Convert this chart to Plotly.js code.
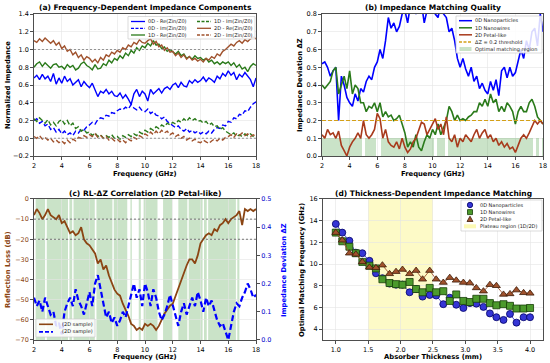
<!DOCTYPE html>
<html><head><meta charset="utf-8">
<script src="https://cdn.plot.ly/plotly-3.0.1.min.js"></script>
<style>html,body{margin:0;padding:0;background:#fff}#chart{width:550px;height:363px}</style>
</head><body><div id="chart"></div>
<script>
// ---------- DATA ----------
const freq = [2.0,2.2,2.4,2.6,2.8,3.0,3.2,3.4,3.6,3.8,
 4.0,4.2,4.4,4.6,4.8,5.0,5.2,5.4,5.6,5.8,
 6.0,6.2,6.4,6.6,6.8,7.0,7.2,7.4,7.6,7.8,
 8.0,8.2,8.4,8.6,8.8,9.0,9.2,9.4,9.6,9.8,
 10.0,10.2,10.4,10.6,10.8,11.0,11.2,11.4,11.6,11.8,
 12.0,12.2,12.4,12.6,12.8,13.0,13.2,13.4,13.6,13.8,
 14.0,14.2,14.4,14.6,14.8,15.0,15.2,15.4,15.6,15.8,
 16.0,16.2,16.4,16.6,16.8,17.0,17.2,17.4,17.6,17.8,
 18.0];

// (a) normalized impedance
const re0D = [0.68,0.71,0.66,0.72,0.67,0.70,0.64,0.73,0.61,0.68,
 0.62,0.70,0.64,0.67,0.60,0.63,0.66,0.58,0.64,0.60,
 0.57,0.62,0.55,0.47,0.53,0.51,0.55,0.50,0.53,0.48,
 0.47,0.51,0.45,0.49,0.44,0.38,0.50,0.55,0.47,0.53,
 0.50,0.42,0.55,0.50,0.53,0.56,0.51,0.56,0.58,0.55,
 0.60,0.62,0.57,0.63,0.59,0.58,0.65,0.62,0.66,0.63,
 0.65,0.69,0.64,0.68,0.66,0.63,0.70,0.67,0.73,0.70,
 0.76,0.71,0.74,0.66,0.72,0.69,0.74,0.70,0.66,0.58,
 0.68];
const im0D = [0.20,0.22,0.17,0.19,0.14,0.16,0.10,0.12,0.07,0.10,
 0.05,0.08,0.04,0.06,0.03,0.08,0.06,0.10,0.09,0.13,
 0.15,0.18,0.16,0.21,0.23,0.22,0.26,0.25,0.29,0.28,
 0.31,0.33,0.32,0.35,0.33,0.38,0.34,0.32,0.35,0.31,
 0.30,0.33,0.28,0.30,0.26,0.25,0.22,0.24,0.19,0.17,
 0.15,0.12,0.14,0.10,0.08,0.11,0.07,0.09,0.06,0.08,
 0.05,0.07,0.05,0.08,0.06,0.10,0.12,0.11,0.15,0.14,
 0.19,0.18,0.23,0.22,0.27,0.26,0.31,0.30,0.35,0.39,
 0.41];
const re1D = [0.80,0.84,0.86,0.81,0.85,0.82,0.79,0.83,0.84,0.80,
 0.81,0.78,0.83,0.80,0.82,0.77,0.79,0.84,0.86,0.82,
 0.80,0.77,0.83,0.78,0.79,0.84,0.82,0.88,0.85,0.90,
 0.88,0.93,0.90,0.96,0.93,0.99,0.96,1.02,0.99,1.04,
 1.02,1.07,1.04,1.10,1.05,1.06,1.01,1.03,0.98,1.00,
 0.97,0.95,0.98,0.93,0.95,0.90,0.92,0.89,0.93,0.90,
 0.91,0.88,0.90,0.86,0.88,0.84,0.86,0.83,0.86,0.84,
 0.86,0.82,0.85,0.80,0.83,0.78,0.80,0.75,0.81,0.84,
 0.82];
const im1D = [0.22,0.19,0.23,0.20,0.17,0.21,0.15,0.18,0.14,0.19,
 0.21,0.16,0.20,0.14,0.17,0.11,0.13,0.08,0.10,0.06,
 0.07,0.03,0.06,0.02,0.04,0.00,0.03,0.01,0.04,0.00,
 0.02,-0.01,0.03,0.01,0.04,0.02,0.05,0.03,0.07,0.05,
 0.09,0.07,0.11,0.09,0.13,0.11,0.15,0.13,0.17,0.15,
 0.18,0.16,0.20,0.18,0.22,0.19,0.23,0.20,0.22,0.19,
 0.20,0.17,0.19,0.15,0.17,0.13,0.14,0.10,0.12,0.08,
 0.06,0.04,0.06,0.02,0.04,0.02,0.05,0.03,0.05,0.02,
 0.03];
const re2D = [1.10,1.08,1.12,1.09,1.13,1.10,1.07,1.10,1.05,1.08,
 1.01,1.04,0.98,1.00,0.94,0.97,0.91,0.94,0.88,0.92,
 0.90,0.86,0.89,0.85,0.91,0.88,0.94,0.92,0.97,0.95,
 0.99,0.97,1.02,1.00,1.05,1.03,1.08,1.06,1.11,1.08,
 1.07,1.10,1.12,1.06,1.09,1.03,1.05,0.99,1.02,0.97,
 0.98,0.93,0.96,0.91,0.94,0.89,0.92,0.88,0.90,0.87,
 0.89,0.86,0.90,0.88,0.92,0.90,0.95,0.93,0.98,1.00,
 1.03,1.06,1.04,1.08,1.10,1.07,1.11,1.09,1.12,1.14,
 1.12];
const im2D = [0.02,0.00,0.03,-0.01,0.01,-0.02,0.00,-0.04,-0.02,-0.05,
 -0.03,-0.06,-0.02,-0.05,-0.01,-0.03,0.01,0.00,0.03,0.01,
 0.04,0.02,0.05,0.01,0.03,0.00,0.02,-0.02,0.00,-0.03,
 -0.01,-0.04,-0.02,-0.05,-0.01,-0.03,0.01,-0.01,0.03,0.01,
 0.05,0.03,0.07,0.04,0.08,0.05,0.09,0.06,0.08,0.04,
 0.06,0.02,0.04,0.00,0.02,-0.02,0.00,-0.03,-0.01,-0.04,
 -0.05,-0.02,-0.04,-0.06,-0.03,-0.01,-0.03,0.00,-0.02,0.01,
 0.02,0.04,0.01,0.05,0.03,0.06,0.03,0.05,0.02,0.04,
 0.02];

// (b) impedance deviation
const dz0D = [0.52,0.53,0.50,0.45,0.48,0.50,0.20,0.45,0.40,0.33,
 0.30,0.28,0.35,0.31,0.38,0.36,0.42,0.45,0.43,0.50,
 0.53,0.60,0.55,0.65,0.78,0.72,0.75,0.70,0.73,0.80,
 0.82,0.75,0.85,0.88,0.80,0.90,0.86,0.75,0.82,0.88,
 0.85,0.80,0.78,0.86,0.80,0.78,0.70,0.72,0.65,0.55,
 0.50,0.55,0.49,0.45,0.50,0.42,0.45,0.38,0.41,0.37,
 0.35,0.42,0.37,0.43,0.34,0.48,0.50,0.44,0.50,0.45,
 0.47,0.53,0.60,0.55,0.65,0.60,0.70,0.72,0.62,0.80,
 0.70];
const dz1D = [0.40,0.38,0.40,0.42,0.48,0.50,0.35,0.40,0.45,0.38,
 0.48,0.35,0.40,0.38,0.30,0.30,0.25,0.28,0.27,0.30,
 0.25,0.30,0.22,0.25,0.22,0.23,0.20,0.21,0.23,0.18,
 0.13,0.05,0.08,0.05,0.12,0.05,0.03,0.08,0.12,0.10,
 0.15,0.12,0.18,0.12,0.16,0.20,0.28,0.25,0.20,0.23,
 0.20,0.21,0.20,0.22,0.23,0.25,0.25,0.30,0.28,0.32,
 0.28,0.35,0.30,0.32,0.25,0.28,0.25,0.30,0.28,0.25,
 0.18,0.25,0.28,0.25,0.25,0.30,0.32,0.28,0.22,0.20,
 0.18];
const dz2D = [0.12,0.10,0.15,0.12,0.13,0.10,0.14,0.06,0.03,0.00,
 0.05,0.08,0.10,0.13,0.10,0.20,0.12,0.10,0.12,0.15,
 0.24,0.21,0.10,0.15,0.08,0.06,0.05,0.08,0.04,0.10,
 0.05,0.02,0.04,0.08,0.10,0.15,0.19,0.18,0.12,0.15,
 0.18,0.21,0.15,0.18,0.12,0.22,0.10,0.08,0.12,0.05,
 0.10,0.08,0.12,0.10,0.08,0.12,0.15,0.10,0.13,0.15,
 0.10,0.12,0.08,0.10,0.06,0.08,0.05,0.07,0.04,0.05,
 0.02,0.06,0.10,0.12,0.10,0.13,0.17,0.20,0.18,0.20,
 0.18];
const dzThreshold = 0.2;

// (c) RL and deviation of the 2D sample
const rl2D = [-8,-5,-7,-10,-8,-5,-8,-9,-10,-8,
 -12,-11,-14,-17,-16,-18,-17,-14,-20,-22,
 -23,-25,-27,-32,-30,-35,-33,-38,-42,-45,
 -47,-48,-52,-55,-58,-62,-63,-65,-64,-65,
 -62,-63,-62,-63,-65,-63,-60,-57,-55,-53,
 -52,-48,-45,-40,-37,-33,-30,-30,-32,-28,
 -22,-20,-18,-17,-18,-15,-16,-13,-12,-10,
 -12,-10,-9,-8,-6,-13,-5,-6,-5,-6,
 -5];
const dzC = [0.15,0.12,0.14,0.10,0.15,0.12,0.09,0.10,0.05,0.06,
 0.02,0.10,0.13,0.15,0.12,0.18,0.14,0.12,0.09,0.13,
 0.17,0.12,0.20,0.23,0.18,0.12,0.08,0.10,0.06,0.08,
 0.05,0.07,0.10,0.08,0.12,0.15,0.20,0.15,0.18,0.12,
 0.20,0.17,0.12,0.18,0.15,0.10,0.07,0.09,0.12,0.16,
 0.12,0.08,0.05,0.10,0.13,0.09,0.12,0.15,0.12,0.17,
 0.14,0.10,0.15,0.12,0.14,0.10,0.07,0.05,0.06,0.03,
 0.00,0.05,0.10,0.13,0.12,0.15,0.17,0.20,0.18,0.15,
 0.16];
const bandStart = [2.12,2.92,4.55,4.85,6.50,7.75,8.95,9.55,9.90,11.30,12.40,13.15,14.25,14.55,16.65];
const bandEnd   = [2.80,4.45,4.75,6.38,7.65,8.72,9.05,9.70,10.90,11.95,13.05,14.15,14.45,16.55,16.80];
const rlRefLines = [-10,-20];

// (d) thickness dependence
const thickness = [1.00,1.10,1.21,1.31,1.41,1.52,1.62,1.72,1.83,1.93,
 2.03,2.14,2.24,2.34,2.45,2.55,2.66,2.76,2.86,2.97,
 3.07,3.17,3.28,3.38,3.48,3.59,3.69,3.79,3.90,4.00];
const fm0D = [13.7,12.9,12.15,11.05,11.0,10.3,9.15,8.7,8.2,8.1,
 8.1,7.4,7.7,7.0,7.15,7.1,6.3,6.9,6.25,5.95,
 6.4,6.35,6.05,5.45,5.1,4.85,5.4,4.6,5.1,5.1];
const fm1D = [12.9,12.1,11.6,11.0,10.2,9.85,9.6,8.6,8.25,8.15,
 8.1,8.35,7.7,7.4,7.8,7.4,7.5,6.6,7.2,6.6,
 6.5,6.8,6.8,6.4,6.2,6.3,6.15,5.9,5.9,5.95];
const fm2D = [12.9,12.2,11.0,10.9,10.2,9.7,9.65,9.9,9.1,9.3,
 9.5,9.1,9.4,8.6,9.4,8.6,8.3,8.75,8.5,8.3,
 8.25,7.8,7.5,8.1,8.0,7.2,7.25,7.6,7.35,7.3];
const plateau = [1.5, 2.5];

// ---------- STYLE ----------
const W = 550, H = 363;
const px = x => x / W, py = y => 1 - y / H;
const C0 = '#0000ff', C1 = '#2a7a1a', C2 = '#a0522d', C2b = '#a83a1c', CRL = '#8b4513';
const GREEN_FILL = 'rgba(60,150,50,0.27)';
const FONT = 'DejaVu Sans, Liberation Sans, sans-serif';

const baseAx = {
  showline: true, mirror: true, linecolor: '#222', linewidth: 0.8,
  ticks: 'outside', ticklen: 3, tickwidth: 0.8, tickcolor: '#222',
  showgrid: true, gridcolor: '#e4e4e4', gridwidth: 0.6, zeroline: false,
  tickfont: {size: 6.5, color: '#000', family: FONT}
};
const ax = o => Object.assign({}, baseAx, o);

const traces = [];
// (b) optimal region bars first (drawn beneath lines)
traces.push({type: 'bar', x: freq, y: dz2D.map(v => v < dzThreshold ? 0.1 : 0), width: 0.2,
  marker: {color: GREEN_FILL, line: {width: 0}}, xaxis: 'x2', yaxis: 'y2', hoverinfo: 'skip'});

const L = (x, y, color, dash, xa, ya, w) => ({type: 'scatter', mode: 'lines', x, y,
  line: {color, width: w || 1.4, dash: dash || 'solid'}, xaxis: xa, yaxis: ya});
// (a)
traces.push(L(freq, re0D, C0, 'solid', 'x', 'y'));
traces.push(L(freq, im0D, C0, '5px,2.5px', 'x', 'y'));
traces.push(L(freq, re1D, C1, 'solid', 'x', 'y'));
traces.push(L(freq, im1D, C1, '5px,2.5px', 'x', 'y'));
traces.push(L(freq, re2D, C2, 'solid', 'x', 'y'));
traces.push(L(freq, im2D, C2, '5px,2.5px', 'x', 'y'));
// (b)
traces.push(L(freq, dz0D, C0, 'solid', 'x2', 'y2', 1.6));
traces.push(L(freq, dz1D, C1, 'solid', 'x2', 'y2', 1.6));
traces.push(L(freq, dz2D, C2b, 'solid', 'x2', 'y2', 1.6));
// (c)
traces.push(L(freq, rl2D, CRL, 'solid', 'x3', 'y3', 1.8));
traces.push(L(freq, dzC, C0, '6px,3px', 'x3', 'y5', 2.2));
// (d)
const M = (y, color, edge, symbol) => ({type: 'scatter', mode: 'lines+markers', x: thickness, y,
  line: {color, width: 0.9}, marker: {color, size: 7, symbol, line: {color: edge, width: 0.8}},
  xaxis: 'x4', yaxis: 'y4'});
traces.push(M(fm0D, '#3535d5', '#000066', 'circle'));
traces.push(M(fm1D, '#4c9a2c', '#163d08', 'square'));
traces.push(M(fm2D, '#a0522d', '#3d1c08', 'triangle-up'));

// ---------- SHAPES / ANNOTATIONS ----------
const shapes = [], annotations = [];
// (a) reference lines
[1.0, 0.0].forEach(v => shapes.push({type: 'line', xref: 'x domain', yref: 'y', x0: 0, x1: 1, y0: v, y1: v,
  line: {color: '#888', width: 0.9, dash: '2px,2px'}}));
// (b) threshold
shapes.push({type: 'line', xref: 'x2 domain', yref: 'y2', x0: 0, x1: 1, y0: dzThreshold, y1: dzThreshold,
  line: {color: '#d4a017', width: 1.1, dash: '4px,2px'}});
// (c) bands and reference lines
bandStart.forEach((s, i) => shapes.push({type: 'rect', xref: 'x3', yref: 'y3 domain', x0: s, x1: bandEnd[i], y0: 0, y1: 1,
  fillcolor: GREEN_FILL, line: {width: 0}, layer: 'below'}));
rlRefLines.forEach(v => shapes.push({type: 'line', xref: 'x3 domain', yref: 'y3', x0: 0, x1: 1, y0: v, y1: v,
  line: {color: '#555', width: 0.8, dash: '2px,2px'}}));
// (d) plateau
shapes.push({type: 'rect', xref: 'x4', yref: 'y4 domain', x0: plateau[0], x1: plateau[1], y0: 0, y1: 1,
  fillcolor: 'rgba(250,245,130,0.45)', line: {width: 0}, layer: 'below'});

// legends
function frame(x0, y0, x1, y1) {
  shapes.push({type: 'rect', xref: 'paper', yref: 'paper', x0: px(x0), x1: px(x1), y0: py(y1), y1: py(y0),
    fillcolor: 'rgba(255,255,255,0.85)', line: {color: '#cccccc', width: 0.7}, layer: 'above'});
}
function lineItem(x0, x1, y, color, dash, width) {
  shapes.push({type: 'line', xref: 'paper', yref: 'paper', x0: px(x0), x1: px(x1), y0: py(y), y1: py(y),
    line: {color, width: width || 1.3, dash: dash || 'solid'}, layer: 'above'});
}
function text(x, y, t, size) {
  annotations.push({xref: 'paper', yref: 'paper', x: px(x), y: py(y), text: t, showarrow: false,
    xanchor: 'left', yanchor: 'middle', borderpad: 0, font: {size: size || 5, color: '#222', family: FONT}});
}
// (a) legend
frame(128, 16.5, 255, 39);
const legA1 = [['0D - Re(Zin/Z0)', C0, 'solid'], ['0D - Im(Zin/Z0)', C0, '3px,1.5px'], ['1D - Re(Zin/Z0)', C1, 'solid']];
const legA2 = [['1D - Im(Zin/Z0)', C1, '3px,1.5px'], ['2D - Re(Zin/Z0)', C2, 'solid'], ['2D - Im(Zin/Z0)', C2, '3px,1.5px']];
const rowsA = [21.5, 28.3, 35];
legA1.forEach((it, i) => { lineItem(131, 145, rowsA[i], it[1], it[2]); text(147, rowsA[i], it[0]); });
legA2.forEach((it, i) => { lineItem(197, 211, rowsA[i], it[1], it[2]); text(213, rowsA[i], it[0]); });
// (b) legend
frame(456, 16, 542, 53);
const rowsB = [20.7, 27.8, 34.8, 41.9, 49];
[['0D Nanoparticles', C0, 'solid'], ['1D Nanowires', C1, 'solid'], ['2D Petal-like', C2b, 'solid'],
 ['ΔZ = 0.2 threshold', '#d4a017', '3px,1.5px']].forEach((it, i) => {
  lineItem(459, 472, rowsB[i], it[1], it[2], 1.5); text(474, rowsB[i], it[0]);
});
shapes.push({type: 'rect', xref: 'paper', yref: 'paper', x0: px(459.5), x1: px(471.5), y0: py(51), y1: py(47),
  fillcolor: GREEN_FILL, line: {width: 0}, layer: 'above'});
text(474, rowsB[4], 'Optimal matching region');
// (c) legend
frame(36, 319, 95, 337);
lineItem(39, 53, 324.3, CRL, 'solid', 1.6); text(61, 324.3, '(2D sample)');
lineItem(39, 53, 331.8, C0, '4px,2px', 1.8); text(61, 331.8, '(2D sample)');
// (d) legend
frame(461, 200, 542, 231);
const rowsD = [205, 212.1, 219.2, 226.3];
shapes.push({type: 'circle', xref: 'paper', yref: 'paper', x0: px(467.3), x1: px(472.7), y0: py(rowsD[0] + 2.7), y1: py(rowsD[0] - 2.7),
  fillcolor: '#3535d5', line: {color: '#000066', width: 0.8}, layer: 'above'});
shapes.push({type: 'rect', xref: 'paper', yref: 'paper', x0: px(467.5), x1: px(472.5), y0: py(rowsD[1] + 2.5), y1: py(rowsD[1] - 2.5),
  fillcolor: '#4c9a2c', line: {color: '#163d08', width: 0.8}, layer: 'above'});
shapes.push({type: 'path', xref: 'paper', yref: 'paper',
  path: `M ${px(470)},${py(rowsD[2] - 3)} L ${px(467)},${py(rowsD[2] + 2.3)} L ${px(473)},${py(rowsD[2] + 2.3)} Z`,
  fillcolor: '#a0522d', line: {color: '#3d1c08', width: 0.8}, layer: 'above'});
shapes.push({type: 'rect', xref: 'paper', yref: 'paper', x0: px(464), x1: px(476), y0: py(rowsD[3] + 2), y1: py(rowsD[3] - 2),
  fillcolor: 'rgba(250,245,130,0.6)', line: {width: 0}, layer: 'above'});
text(479, rowsD[0], '0D Nanoparticles');
text(479, rowsD[1], '1D Nanowires');
text(479, rowsD[2], '2D Petal-like');
text(479, rowsD[3], 'Plateau region (1D/2D)');

// titles and axis titles
function title(x, y, t, size, color, angle) {
  annotations.push({xref: 'paper', yref: 'paper', x: px(x), y: py(y), text: '<b>' + t + '</b>', showarrow: false,
    xanchor: 'center', yanchor: 'middle', textangle: angle || 0, borderpad: 0,
    font: {size, color: color || '#000', family: FONT}});
}
title(145, 7.5, '(a) Frequency-Dependent Impedance Components', 7.5);
title(432.5, 7.5, '(b) Impedance Matching Quality', 7.5);
title(145, 193, '(c) RL-ΔZ Correlation (2D Petal-like)', 7.5);
title(433, 193, '(d) Thickness-Dependent Impedance Matching', 7.5);
title(145, 173.5, 'Frequency (GHz)', 6.8);
title(432.5, 173.5, 'Frequency (GHz)', 6.8);
title(145, 356.5, 'Frequency (GHz)', 6.8);
title(433, 356.5, 'Absorber Thickness (mm)', 6.8);
title(8, 85, 'Normalized Impedance', 6.8, '#000', -90);
title(300, 85, 'Impedance Deviation ΔZ', 6.8, '#000', -90);
title(8, 270, 'Reflection Loss (dB)', 6.8, CRL, -90);
title(284, 270, 'Impedance Deviation ΔZ', 6.8, C0, -90);
title(302, 270, 'Optimal Matching Frequency (GHz)', 6.8, '#000', -90);

const layout = {
  width: W, height: H, margin: {l: 0, r: 0, t: 0, b: 0},
  paper_bgcolor: '#fff', plot_bgcolor: '#fff', showlegend: false, bargap: 0,
  font: {family: FONT, size: 6.5, color: '#000'},
  xaxis: ax({domain: [0.0618, 0.4655], range: [2, 18], dtick: 2, anchor: 'y'}),
  yaxis: ax({domain: [0.5702, 0.9614], range: [-0.2, 1.4], dtick: 0.2, tickformat: '.1f', anchor: 'x'}),
  xaxis2: ax({domain: [0.5855, 0.9873], range: [2, 18], dtick: 2, anchor: 'y2'}),
  yaxis2: ax({domain: [0.5702, 0.9614], range: [0, 0.8], dtick: 0.1, tickformat: '.1f', anchor: 'x2'}),
  xaxis3: ax({domain: [0.0618, 0.4655], range: [2, 18], dtick: 2, anchor: 'y3'}),
  yaxis3: ax({domain: [0.0634, 0.4518], range: [-70, 0], dtick: 10, anchor: 'x3', mirror: false,
    tickfont: {size: 6.5, color: CRL, family: FONT}}),
  yaxis5: ax({overlaying: 'y3', side: 'right', anchor: 'x3', range: [0, 0.5], dtick: 0.1, tickformat: '.1f',
    showgrid: false, mirror: false, tickfont: {size: 6.5, color: '#0000cc', family: FONT}}),
  xaxis4: ax({domain: [0.587, 0.9873], range: [0.8, 4.2], dtick: 0.5, tick0: 1, tickformat: '.1f', anchor: 'y4'}),
  yaxis4: ax({domain: [0.0634, 0.4518], range: [3, 16], dtick: 2, anchor: 'x4'}),
  shapes, annotations
};

Plotly.newPlot('chart', traces, layout, {staticPlot: true, displayModeBar: false});
</script></body></html>
